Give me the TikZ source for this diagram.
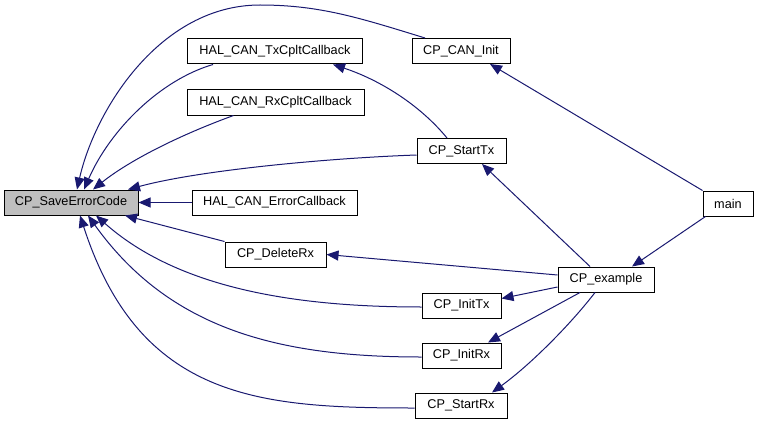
\documentclass[tikz,border=0pt]{standalone}
\usepackage{fontspec}
\setmainfont{Liberation Sans}
\usetikzlibrary{arrows.meta,calc}
\definecolor{edgeblue}{HTML}{191970}
\definecolor{boxgray}{HTML}{BFBFBF}
\begin{document}
\begin{tikzpicture}[x=1pt,y=-1pt,
  fn/.style={draw=black,line width=1pt,fill=white,inner sep=0pt,minimum height=25pt,
    font=\fontsize{12.7}{15}\selectfont},
  call/.style={draw=edgeblue,line width=1pt,-{Triangle[length=12pt,width=10pt]},fill=none}]
\useasboundingbox (0,0) rectangle (759,425);
% nodes
\node[fn,fill=boxgray,minimum width=134pt] (save) at (71,202.5) {CP\_SaveErrorCode};
\node[fn,minimum width=175pt] (txcb) at (275,51.5) {HAL\_CAN\_TxCpltCallback};
\node[fn,minimum width=177pt] (rxcb) at (275.5,102.5) {HAL\_CAN\_RxCpltCallback};
\node[fn,minimum width=165pt] (errcb) at (274.5,202.5) {HAL\_CAN\_ErrorCallback};
\node[fn,minimum width=101pt] (delrx) at (275.5,254.5) {CP\_DeleteRx};
\node[fn,minimum width=98pt] (caninit) at (461,51) {CP\_CAN\_Init};
\node[fn,minimum width=89pt] (starttx) at (461.5,151) {CP\_StartTx};
\node[fn,minimum width=79pt] (inittx) at (461.5,305.5) {CP\_InitTx};
\node[fn,minimum width=79pt] (initrx) at (461.5,355.5) {CP\_InitRx};
\node[fn,minimum width=92pt] (startrx) at (461,405.5) {CP\_StartRx};
\node[fn,minimum width=96pt] (example) at (606,279.5) {CP\_example};
\node[fn,minimum width=50pt] (main) at (728,203.5) {main};
% edges into CP_SaveErrorCode from above
\draw[call] ([xshift=-36pt]caninit.north) .. controls (360,18) and (320,5) .. (260,5)
  .. controls (160,5) and (95,110) .. ([xshift=6pt]save.north);
\draw[call] ([xshift=-62pt]txcb.south) .. controls (160,80) and (110,130) .. ([xshift=13pt]save.north);
\draw[call] ([xshift=-42pt]rxcb.south) .. controls (180,135) and (130,160) .. ([xshift=22pt]save.north);
\draw[call] ([yshift=-4pt]starttx.west) .. controls (330,158) and (200,170) .. ([xshift=57pt]save.north);
\draw[call] (errcb.west) -- (save.east);
% edges into CP_SaveErrorCode from below
\draw[call] (delrx.north west) -- ([xshift=54pt]save.south);
\draw[call] ([yshift=-1.5pt]inittx.west) .. controls (300,307) and (180,290) .. ([xshift=25pt]save.south);
\draw[call] ([yshift=-1.5pt]initrx.west) .. controls (280,357) and (170,330) .. ([xshift=17pt]save.south);
\draw[call] ([yshift=-2.5pt]startrx.west) .. controls (260,408) and (140,400) .. ([xshift=9pt]save.south);
% other edges
\draw[call] ([xshift=-14.5pt]starttx.north) .. controls (420,105) and (380,80) .. ([xshift=58pt]txcb.south);
\draw[call] (main.north west) -- ([xshift=29pt]caninit.south);
\draw[call] ([xshift=-16pt]example.north) -- ([xshift=20.5pt]starttx.south);
\draw[call] ([yshift=4.5pt]example.west) -- (delrx.east);
\draw[call] ([yshift=-7.5pt]example.west) -- ([yshift=7pt]inittx.east);
\draw[call] ([xshift=-26pt]example.south) -- ([xshift=26.5pt]initrx.north);
\draw[call] ([xshift=-11pt]example.south) .. controls (570,325) and (530,365) .. ([xshift=31pt]startrx.north);
\draw[call] ([xshift=3pt]main.south west) -- ([xshift=26pt]example.north);
\end{tikzpicture}
\end{document}
